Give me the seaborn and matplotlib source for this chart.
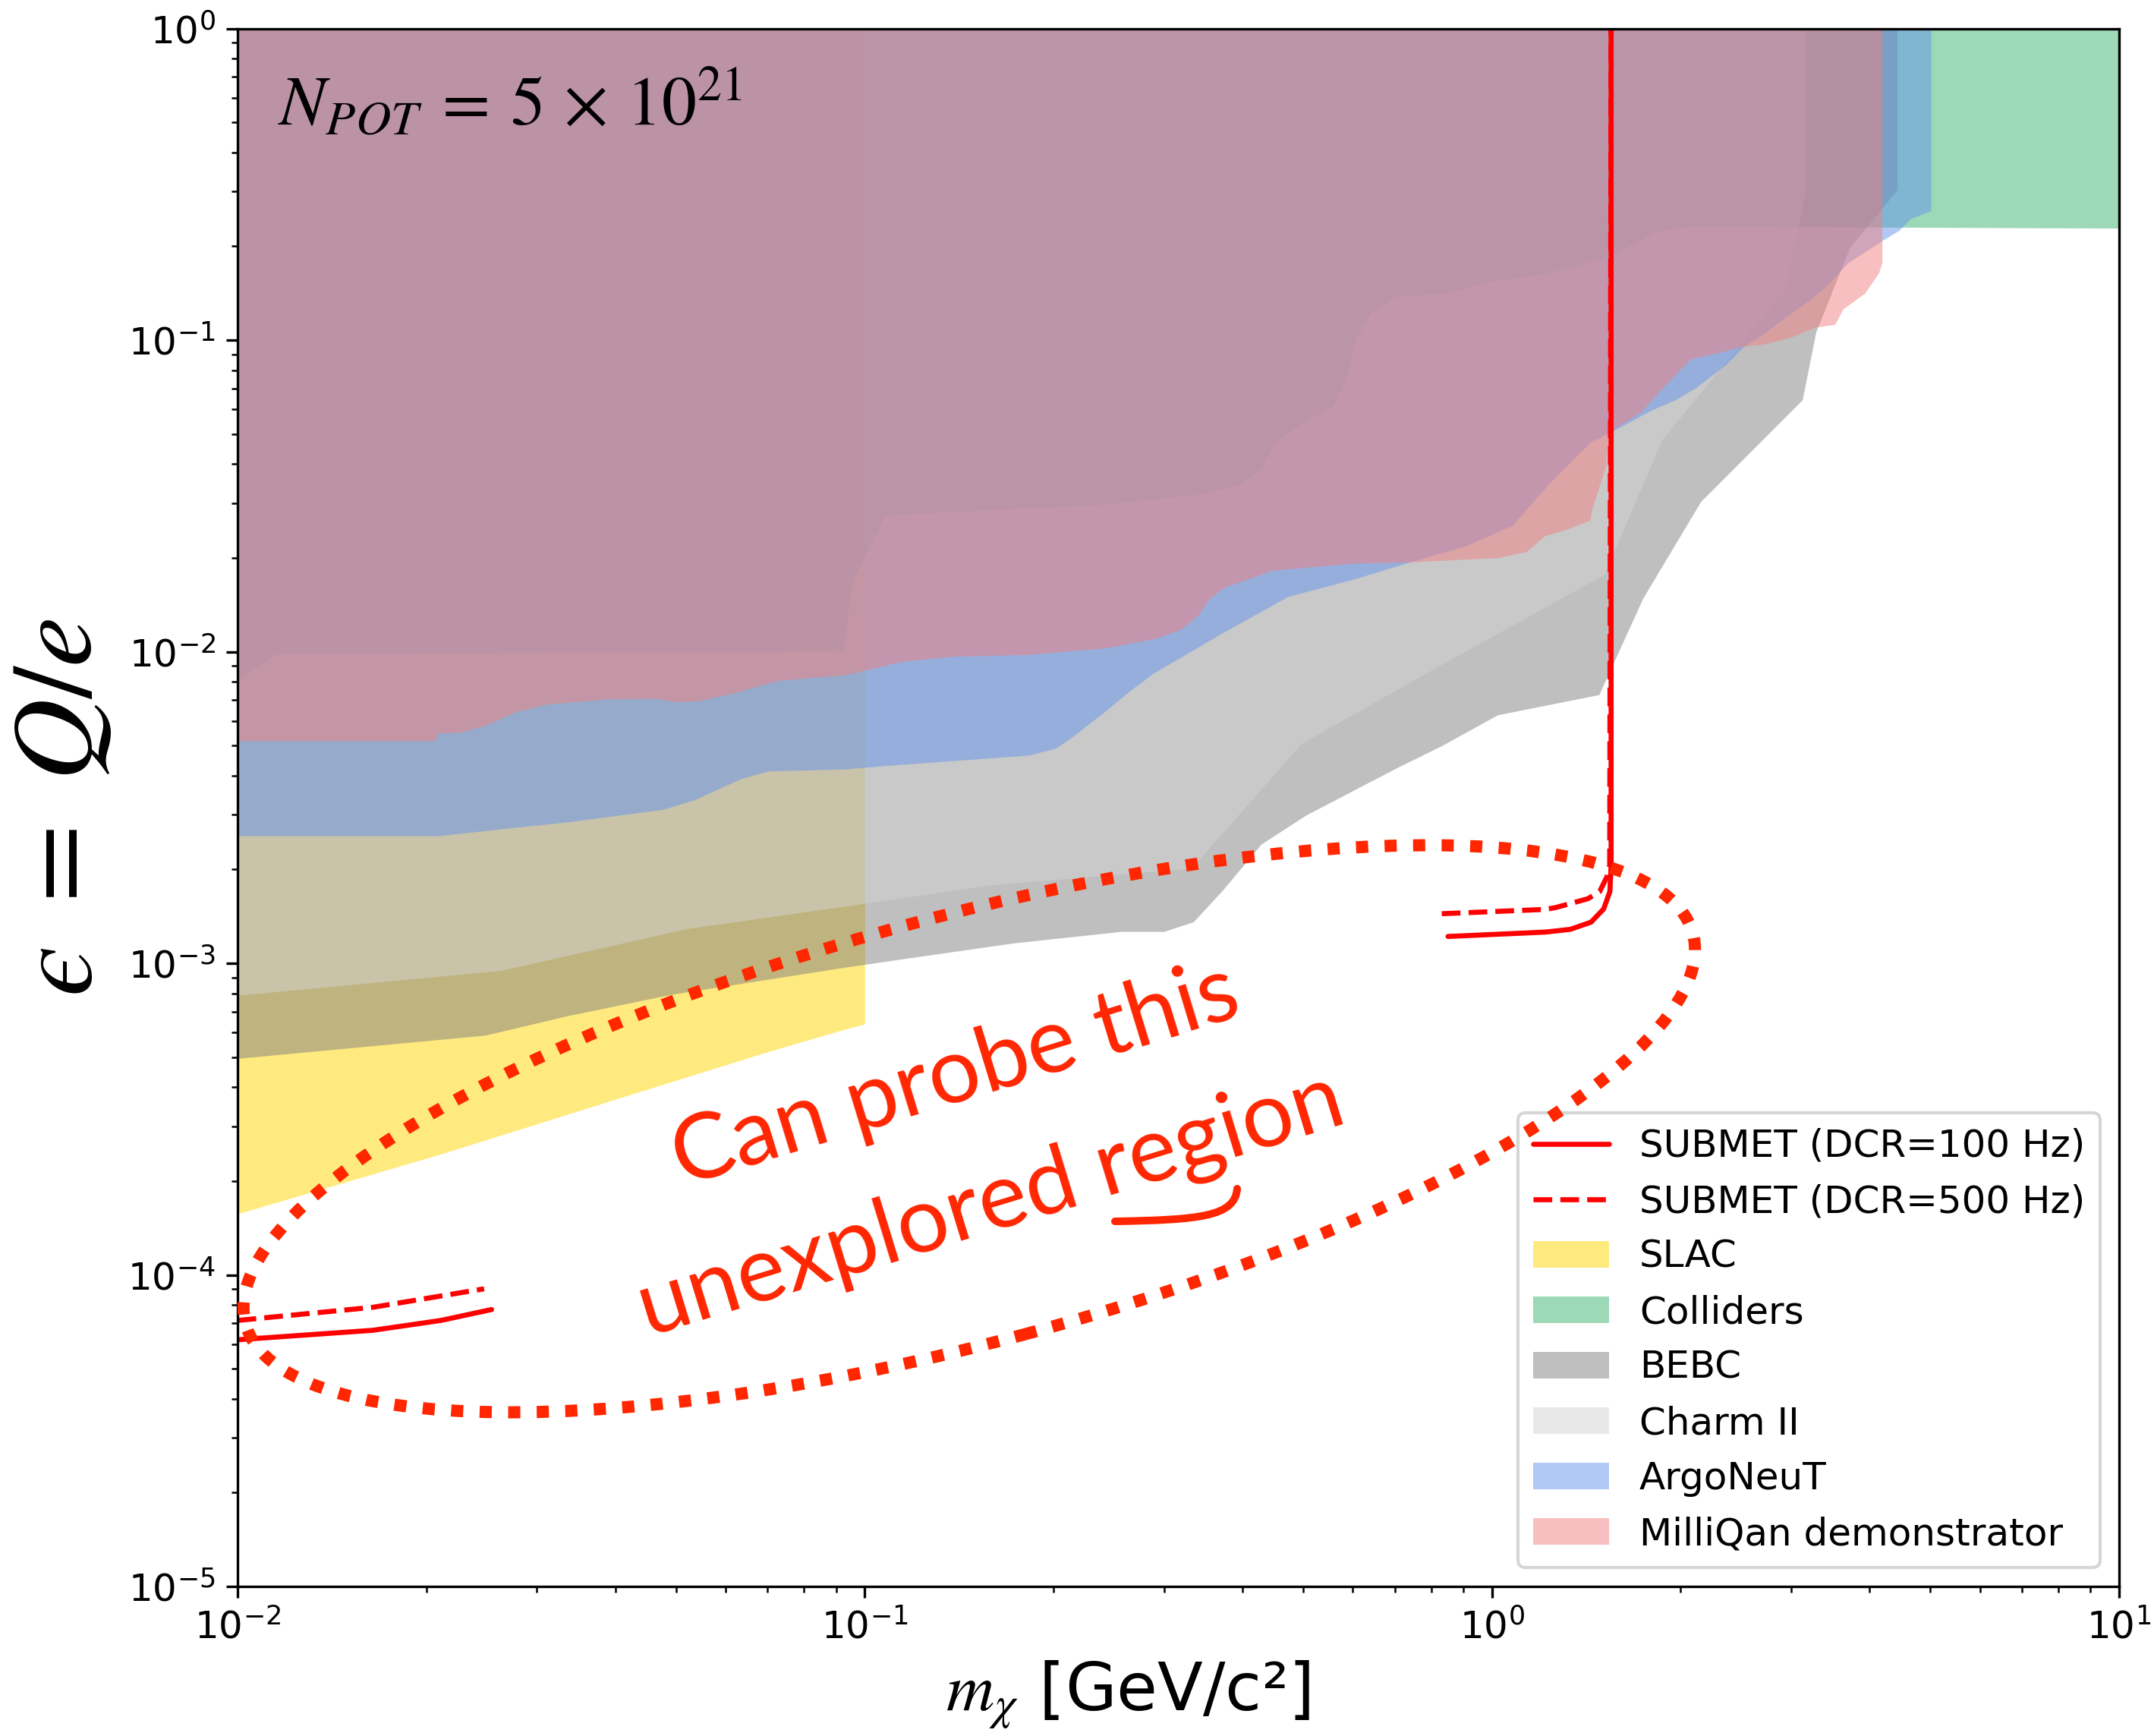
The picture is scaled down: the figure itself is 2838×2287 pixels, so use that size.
import numpy as np
import pandas as pd
import matplotlib
matplotlib.use("Agg")
import matplotlib.pyplot as plt
import seaborn as sns
from matplotlib.patches import Ellipse, Patch, PathPatch
from matplotlib.lines import Line2D
from matplotlib.path import Path

# ---------------------------------------------------------------
# Existing limits: mass [GeV/c^2] vs lower edge of excluded epsilon
# (each region is excluded from its lower edge up to epsilon = 1)
# ---------------------------------------------------------------
slac_mass = [0.010, 0.0212, 0.0439, 0.0692, 0.0929, 0.100, 0.100]
slac_eps = [1.57e-4, 2.45e-4, 3.88e-4, 5.16e-4, 6.14e-4, 6.38e-4, 1.0]

coll_mass = [0.010, 0.01153, 0.0923, 0.0955, 0.1079, 0.2424, 0.3508, 0.399,
             0.4276, 0.4531, 0.4797, 0.5572, 0.5855, 0.6053, 0.6442, 0.7039,
             0.8624, 0.9645, 1.192, 1.366, 1.567, 1.820, 2.061, 10.0]
coll_eps = [8.18e-3, 9.85e-3, 1.009e-2, 1.687e-2, 2.742e-2, 2.972e-2, 3.214e-2,
            3.467e-2, 3.846e-2, 4.725e-2, 5.176e-2, 6.114e-2, 7.464e-2, 0.1002,
            0.1235, 0.1382, 0.1416, 0.1524, 0.1624, 0.1730, 0.1888, 0.2220,
            0.2317, 0.2286]

bebc_mass = [0.010, 0.02483, 0.0335, 0.04914, 0.0929, 0.1157, 0.1724, 0.2566,
             0.3001, 0.3342, 0.3715, 0.4285, 0.5047, 0.6109, 0.7096, 0.8329,
             1.0205, 1.4815, 1.7413, 2.153, 3.125, 3.285, 3.720, 4.426, 4.426]
bebc_eps = [4.95e-4, 5.875e-4, 6.776e-4, 7.943e-4, 9.705e-4, 1.035e-3, 1.161e-3,
            1.265e-3, 1.265e-3, 1.358e-3, 1.710e-3, 2.410e-3, 2.985e-3, 3.648e-3,
            4.266e-3, 5.0e-3, 6.266e-3, 7.278e-3, 1.486e-2, 3.034e-2, 6.427e-2,
            0.1061, 0.1984, 0.3035, 1.0]

charm_mass = [0.010, 0.0263, 0.0520, 0.0929, 0.1582, 0.3319, 0.4966, 0.8329,
              1.510, 1.865, 2.938, 3.165, 3.165]
charm_eps = [7.89e-4, 9.48e-4, 1.291e-3, 1.524e-3, 1.782e-3, 2.018e-3, 5.07e-3,
             9.12e-3, 1.770e-2, 4.764e-2, 0.1469, 0.3035, 1.0]

argo_mass = [0.010, 0.02094, 0.02704, 0.0335, 0.04775, 0.05358, 0.06339, 0.07015,
             0.0929, 0.1072, 0.1824, 0.2015, 0.2133, 0.2424, 0.2642, 0.2877,
             0.3715, 0.4276, 0.4732, 0.6026, 0.7413, 0.912, 1.079, 1.229, 1.366,
             1.442, 1.548, 1.797, 1.960, 2.113, 2.362, 2.512, 2.707, 3.182,
             3.388, 3.698, 4.188, 4.457, 4.656, 5.012, 5.012]
argo_eps = [2.564e-3, 2.564e-3, 2.716e-3, 2.838e-3, 3.119e-3, 3.350e-3, 3.908e-3,
            4.140e-3, 4.198e-3, 4.305e-3, 4.651e-3, 4.898e-3, 5.291e-3, 6.471e-3,
            7.464e-3, 8.492e-3, 1.148e-2, 1.343e-2, 1.504e-2, 1.710e-2, 1.941e-2,
            2.190e-2, 2.547e-2, 3.436e-2, 4.256e-2, 4.737e-2, 5.070e-2, 5.963e-2,
            6.427e-2, 7.023e-2, 8.356e-2, 9.475e-2, 0.1047, 0.1328, 0.1469,
            0.1772, 0.2084, 0.2249, 0.2455, 0.2600, 1.0]

milli_mass = [0.010, 0.02065, 0.0208, 0.02265, 0.02483, 0.02781, 0.03119, 0.03917,
              0.04645, 0.04989, 0.05433, 0.06252, 0.07211, 0.08091, 0.0929,
              0.1149, 0.1374, 0.1824, 0.2424, 0.2917, 0.3199, 0.3412, 0.3532,
              0.374, 0.4467, 0.5938, 0.7413, 1.0266, 1.134, 1.213, 1.317, 1.432,
              1.445, 1.519, 1.525, 1.567, 1.730, 1.877, 2.073, 2.301, 2.512,
              2.725, 2.993, 3.285, 3.520, 3.630, 3.934, 4.138, 4.188, 4.188]
milli_eps = [5.176e-3, 5.176e-3, 5.483e-3, 5.508e-3, 5.800e-3, 6.412e-3, 6.792e-3,
             7.047e-3, 7.079e-3, 6.902e-3, 6.950e-3, 7.413e-3, 8.054e-3, 8.241e-3,
             8.414e-3, 9.311e-3, 9.650e-3, 9.795e-3, 1.028e-2, 1.104e-2, 1.180e-2,
             1.321e-2, 1.469e-2, 1.607e-2, 1.824e-2, 1.919e-2, 1.941e-2, 2.004e-2,
             2.094e-2, 2.352e-2, 2.472e-2, 2.642e-2, 2.884e-2, 3.945e-2, 4.472e-2,
             5.200e-2, 5.888e-2, 7.074e-2, 8.690e-2, 9.120e-2, 9.550e-2, 9.716e-2,
             0.1021, 0.1102, 0.1121, 0.1259, 0.1416, 0.1644, 0.1772, 1.0]

# SUBMET projected sensitivity (two drawn pieces per curve)
s100_mass = [0.010, 0.01644, 0.02109, 0.02541,
             0.8511, 1.216, 1.334, 1.439, 1.507, 1.542, 1.549, 1.549]
s100_eps = [6.19e-5, 6.64e-5, 7.14e-5, 7.74e-5,
            1.219e-3, 1.259e-3, 1.285e-3, 1.355e-3, 1.493e-3, 1.698e-3, 2.061e-3, 1.0]
s100_piece = [0, 0, 0, 0, 1, 1, 1, 1, 1, 1, 1, 1]

s500_mass = [0.010, 0.01644, 0.02472,
             0.8318, 1.216, 1.265, 1.422, 1.485, 1.525, 1.541, 1.549]
s500_eps = [7.14e-5, 7.87e-5, 9.02e-5,
            1.442e-3, 1.489e-3, 1.510e-3, 1.611e-3, 1.698e-3, 1.892e-3, 2.061e-3, 1.0]
s500_piece = [0, 0, 0, 1, 1, 1, 1, 1, 1, 1, 1]

region_names = ["SLAC", "Colliders", "BEBC", "Charm II", "ArgoNeuT",
                "MilliQan demonstrator"]
region_colors = ["gold", "mediumseagreen", "gray", "lightgray",
                 "cornflowerblue", "lightcoral"]
region_data = [(slac_mass, slac_eps), (coll_mass, coll_eps),
               (bebc_mass, bebc_eps), (charm_mass, charm_eps),
               (argo_mass, argo_eps), (milli_mass, milli_eps)]

# ---------------------------------------------------------------
sns.set_style("ticks", {
    "axes.edgecolor": "black", "xtick.color": "black", "ytick.color": "black",
    "text.color": "black", "axes.labelcolor": "black",
    "xtick.direction": "out", "ytick.direction": "out",
})
plt.rcParams.update({
    "font.family": ["DejaVu Sans"],
    "mathtext.fontset": "stix",
    "axes.linewidth": 0.8,
    "xtick.labelsize": 12, "ytick.labelsize": 12,
    "xtick.major.size": 3.5, "ytick.major.size": 3.5,
    "xtick.minor.size": 2.0, "ytick.minor.size": 2.0,
    "xtick.major.width": 0.8, "ytick.major.width": 0.8,
    "xtick.minor.width": 0.6, "ytick.minor.width": 0.6,
})

W, H, DPI = 2838, 2287, 300
fig = plt.figure(figsize=(W / DPI, H / DPI), dpi=DPI)
ax = fig.add_axes([313 / W, 1 - 2090 / H, 2479 / W, 2052.5 / H])
ax.set_xscale("log")
ax.set_yscale("log")

# excluded regions, each from its lower edge up to epsilon = 1
for name, color, (m, e) in zip(region_names, region_colors, region_data):
    ax.fill_between(m, e, 1.0, color=color, alpha=0.5, linewidth=0, label=name)

red = "#ff0000"
lw = 1.6
df100 = pd.DataFrame({"mass": s100_mass, "eps": s100_eps, "piece": s100_piece})
df500 = pd.DataFrame({"mass": s500_mass, "eps": s500_eps, "piece": s500_piece})
sns.lineplot(data=df100, x="mass", y="eps", units="piece", estimator=None,
             sort=False, color=red, linewidth=lw, ax=ax, legend=False)
sns.lineplot(data=df500, x="mass", y="eps", units="piece", estimator=None,
             sort=False, color=red, linewidth=lw, linestyle="--", ax=ax,
             legend=False)

ax.set_xlim(1e-2, 10)
ax.set_ylim(1e-5, 1)
ax.set_xlabel(r"$m_\chi$ [GeV/c²]", fontsize=21)
ax.xaxis.label.set_x(0.473)
ax.set_ylabel("$\u03f5\\ =\\ Q/e$", fontsize=36)

ax.text(0.0214, 0.938, r"$N_{POT}\:=\:5\,\times\,10^{21}$", transform=ax.transAxes,
        fontsize=22, va="baseline", ha="left")

handles = [Line2D([], [], color=red, lw=lw, label="SUBMET (DCR=100 Hz)"),
           Line2D([], [], color=red, lw=lw, ls="--", label="SUBMET (DCR=500 Hz)")]
handles += [Patch(facecolor=c, alpha=0.5, linewidth=0, label=n)
            for n, c in zip(region_names, region_colors)]
ax.legend(handles=handles, loc="lower right", fontsize=12, framealpha=0.8)

# hand-drawn style callout
callout = "#ff2600"


def inch(x, y):
    return (x / DPI, (H - y) / DPI)


ring = Ellipse(inch(1277, 1487), width=1975 / DPI, height=561 / DPI, angle=15.1,
               transform=fig.dpi_scale_trans, fill=False, edgecolor=callout,
               linewidth=3.84, linestyle=(0, (1, 1.35)))
fig.add_artist(ring)

fig.text(1259 / W, 1 - 1418 / H, "Can probe this", rotation=17,
         rotation_mode="anchor", ha="center", va="center", fontsize=29,
         color=callout, family="Lato")
fig.text(1306 / W, 1 - 1588 / H, "unexplored region", rotation=17,
         rotation_mode="anchor", ha="center", va="center", fontsize=29,
         color=callout, family="Lato")

swoosh = Path([inch(1469, 1609), inch(1580, 1607), inch(1627, 1603),
               inch(1630, 1566)],
              [Path.MOVETO, Path.CURVE4, Path.CURVE4, Path.CURVE4])
fig.add_artist(PathPatch(swoosh, transform=fig.dpi_scale_trans, fill=False,
                         edgecolor=callout, linewidth=2.4, capstyle="round"))

fig.savefig("out.png", dpi=DPI)
